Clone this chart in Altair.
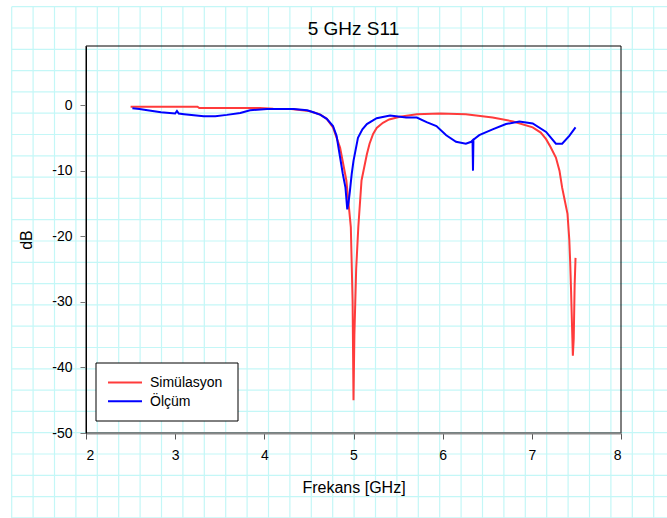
import altair as alt
import numpy as np
import pandas as pd

# ---- data ----
series_names = ["Simülasyon", "Ölçüm"]
series_colors = ["#ff3b3b", "#0000ff"]

sim_freq = [2.50, 3.25, 3.27, 3.95, 4.10, 4.30, 4.50, 4.62, 4.70, 4.77, 4.85, 4.92, 4.97, 4.99,
            5.00, 5.01, 5.03, 5.054, 5.09, 5.15, 5.18, 5.22, 5.26, 5.33, 5.40, 5.52, 5.71, 5.97,
            6.26, 6.56, 6.79, 7.01, 7.10, 7.16, 7.21, 7.27, 7.31, 7.34, 7.37, 7.40, 7.42, 7.43,
            7.44, 7.45, 7.46, 7.47, 7.48, 7.49]
sim_db = [-0.25, -0.25, -0.45, -0.45, -0.55, -0.6, -0.9, -1.4, -2.1, -3.4, -6.5, -11.5, -18.6, -30,
          -45.0, -35, -25, -18.6, -11.5, -7.5, -5.9, -4.4, -3.5, -2.7, -2.2, -1.8, -1.4, -1.3,
          -1.4, -1.9, -2.5, -3.4, -4.2, -5.2, -6.4, -8.0, -10.0, -12.6, -14.6, -16.6, -20.5, -23.9,
          -28.3, -33.3, -38.2, -35.6, -27.5, -23.3]

meas_freq = [2.52, 2.60, 2.69, 2.84, 3.00, 3.02, 3.04, 3.10, 3.32, 3.45, 3.58, 3.73, 3.84, 4.03,
             4.33, 4.48, 4.55, 4.63, 4.70, 4.77, 4.81, 4.85, 4.88, 4.91, 4.93, 4.945, 4.96, 4.98,
             5.00, 5.05, 5.10, 5.15, 5.26, 5.41, 5.59, 5.71, 5.82, 5.93, 6.04, 6.15, 6.26, 6.32,
             6.335, 6.34, 6.345, 6.41, 6.56, 6.71, 6.86, 7.01, 7.16, 7.27, 7.34, 7.42, 7.49]
meas_db = [-0.5, -0.6, -0.8, -1.1, -1.3, -0.9, -1.3, -1.4, -1.7, -1.7, -1.5, -1.2, -0.8, -0.6,
           -0.6, -0.8, -1.1, -1.5, -2.1, -3.2, -4.7, -8.0, -10.5, -12.6, -15.9, -14.8, -13.1, -10.5,
           -8.5, -5.0, -3.7, -2.9, -2.0, -1.6, -1.9, -1.9, -2.6, -3.2, -4.6, -5.6, -5.9, -5.6,
           -5.4, -10.0, -5.3, -4.6, -3.7, -2.9, -2.5, -2.8, -4.1, -5.9, -5.9, -4.7, -3.4]

x_ticks = [2, 3, 4, 5, 6, 7, 8]
y_ticks = [0, -10, -20, -30, -40, -50]
x_domain = [2, 8]
y_domain = [-50, 9]

# ---- layout ----
W, H = 535, 387
PAD = {"left": 86, "top": 46, "right": 46, "bottom": 85}
FONT = "Liberation Sans"

sim = pd.DataFrame({"f": sim_freq, "db": sim_db, "series": series_names[0]})
sim["i"] = range(len(sim))
meas = pd.DataFrame({"f": meas_freq, "db": meas_db, "series": series_names[1]})
meas["i"] = range(len(meas))

# graph-paper background (decoration), expressed in data units of the chart
ghz_per_px = (x_domain[1] - x_domain[0]) / W
db_per_px = (y_domain[1] - y_domain[0]) / H
gx_px = np.arange(11.7, 667, 21.4)
gy_px = np.arange(6.7, 518, 21.3)
grid_v = pd.DataFrame({"f": x_domain[0] + (gx_px - PAD["left"]) * ghz_per_px})
grid_h = pd.DataFrame({"db": y_domain[1] - (gy_px - PAD["top"]) * db_per_px})

xs = alt.Scale(domain=x_domain, nice=False, zero=False)
ys = alt.Scale(domain=y_domain, nice=False, zero=False)
cs = alt.Scale(domain=series_names, range=series_colors)
GRID_COLOR = "#c4f7f7"

vlines = alt.Chart(grid_v).mark_rule(color=GRID_COLOR, strokeWidth=1.2).encode(
    x=alt.X("f:Q", scale=xs),
    y=alt.value(6.7 - PAD["top"]),
    y2=alt.value(518 - PAD["top"]),
)
hlines = alt.Chart(grid_h).mark_rule(color=GRID_COLOR, strokeWidth=1.2).encode(
    y=alt.Y("db:Q", scale=ys),
    x=alt.value(11.7 - PAD["left"]),
    x2=alt.value(667 - PAD["left"]),
)

xenc = alt.X(
    "f:Q", scale=xs,
    axis=alt.Axis(values=x_ticks, labelExpr="datum.value + ''", title="Frekans [GHz]", grid=False,
                  labelFont=FONT, labelFontSize=14, labelColor="black", labelPadding=9,
                  titleFont=FONT, titleFontSize=16, titleFontWeight="normal", titleColor="black",
                  titlePadding=17, tickSize=6, tickColor="#555555", domainColor="#888888",
                  domainWidth=2, zindex=1),
)
yenc = alt.Y(
    "db:Q", scale=ys,
    axis=alt.Axis(values=y_ticks, labelExpr="datum.value + ''", title="dB", grid=False,
                  labelFont=FONT, labelFontSize=14, labelColor="black", labelPadding=8,
                  titleFont=FONT, titleFontSize=16, titleFontWeight="normal", titleColor="black",
                  titlePadding=17, tickSize=6, tickColor="#777777", domainColor="black",
                  domainWidth=1, zindex=1),
)

sim_line = alt.Chart(sim).mark_line(strokeWidth=2).encode(
    x=xenc, y=yenc, color=alt.Color("series:N", scale=cs, legend=None), order="i:Q"
)
meas_line = alt.Chart(meas).mark_line(strokeWidth=2).encode(
    x=alt.X("f:Q", scale=xs), y=alt.Y("db:Q", scale=ys),
    color=alt.Color("series:N", scale=cs, legend=None), order="i:Q",
)

frame = alt.Chart(pd.DataFrame({"k": [0]})).mark_rect(
    fillOpacity=0, stroke="black", strokeWidth=1
).encode(x=alt.value(0), x2=alt.value(W), y=alt.value(0), y2=alt.value(H))

# ---- legend box (drawn by hand to match the compact original) ----
LX, LY = 10, 317        # legend box top-left, relative to the plot area
ROW0, ROW_STEP = 19.5, 18.7
legend_df = pd.DataFrame({"series": series_names})

legend_box = alt.Chart(pd.DataFrame({"k": [0]})).mark_rect(
    fill="white", stroke="black", strokeWidth=1
).encode(x=alt.value(LX), x2=alt.value(LX + 142), y=alt.value(LY), y2=alt.value(LY + 58))

legend_layers = []
for r, name in enumerate(series_names):
    yy = LY + ROW0 + r * ROW_STEP
    sub = legend_df[legend_df["series"] == name]
    legend_layers.append(
        alt.Chart(sub).mark_rule(strokeWidth=2).encode(
            color=alt.Color("series:N", scale=cs, legend=None),
            x=alt.value(LX + 12), x2=alt.value(LX + 46), y=alt.value(yy),
        )
    )
    legend_layers.append(
        alt.Chart(sub).mark_text(font=FONT, fontSize=14, color="black", align="left",
                                 baseline="middle").encode(
            text="series:N", x=alt.value(LX + 54), y=alt.value(yy + 0.5),
        )
    )

title = alt.Chart(pd.DataFrame({"t": ["5 GHz S11"]})).mark_text(
    font=FONT, fontSize=19, color="black", baseline="alphabetic", align="center"
).encode(text="t:N", x=alt.value(W / 2), y=alt.value(35 - PAD["top"]))

chart = (
    alt.layer(vlines, hlines, sim_line, meas_line, frame, legend_box, *legend_layers, title)
    .properties(width=W, height=H, padding=PAD, autosize=alt.AutoSizeParams(type="none"),
                background="white")
    .configure_view(stroke=None)
)

chart.save("out.html", embed_options={"renderer": "svg", "actions": False})
